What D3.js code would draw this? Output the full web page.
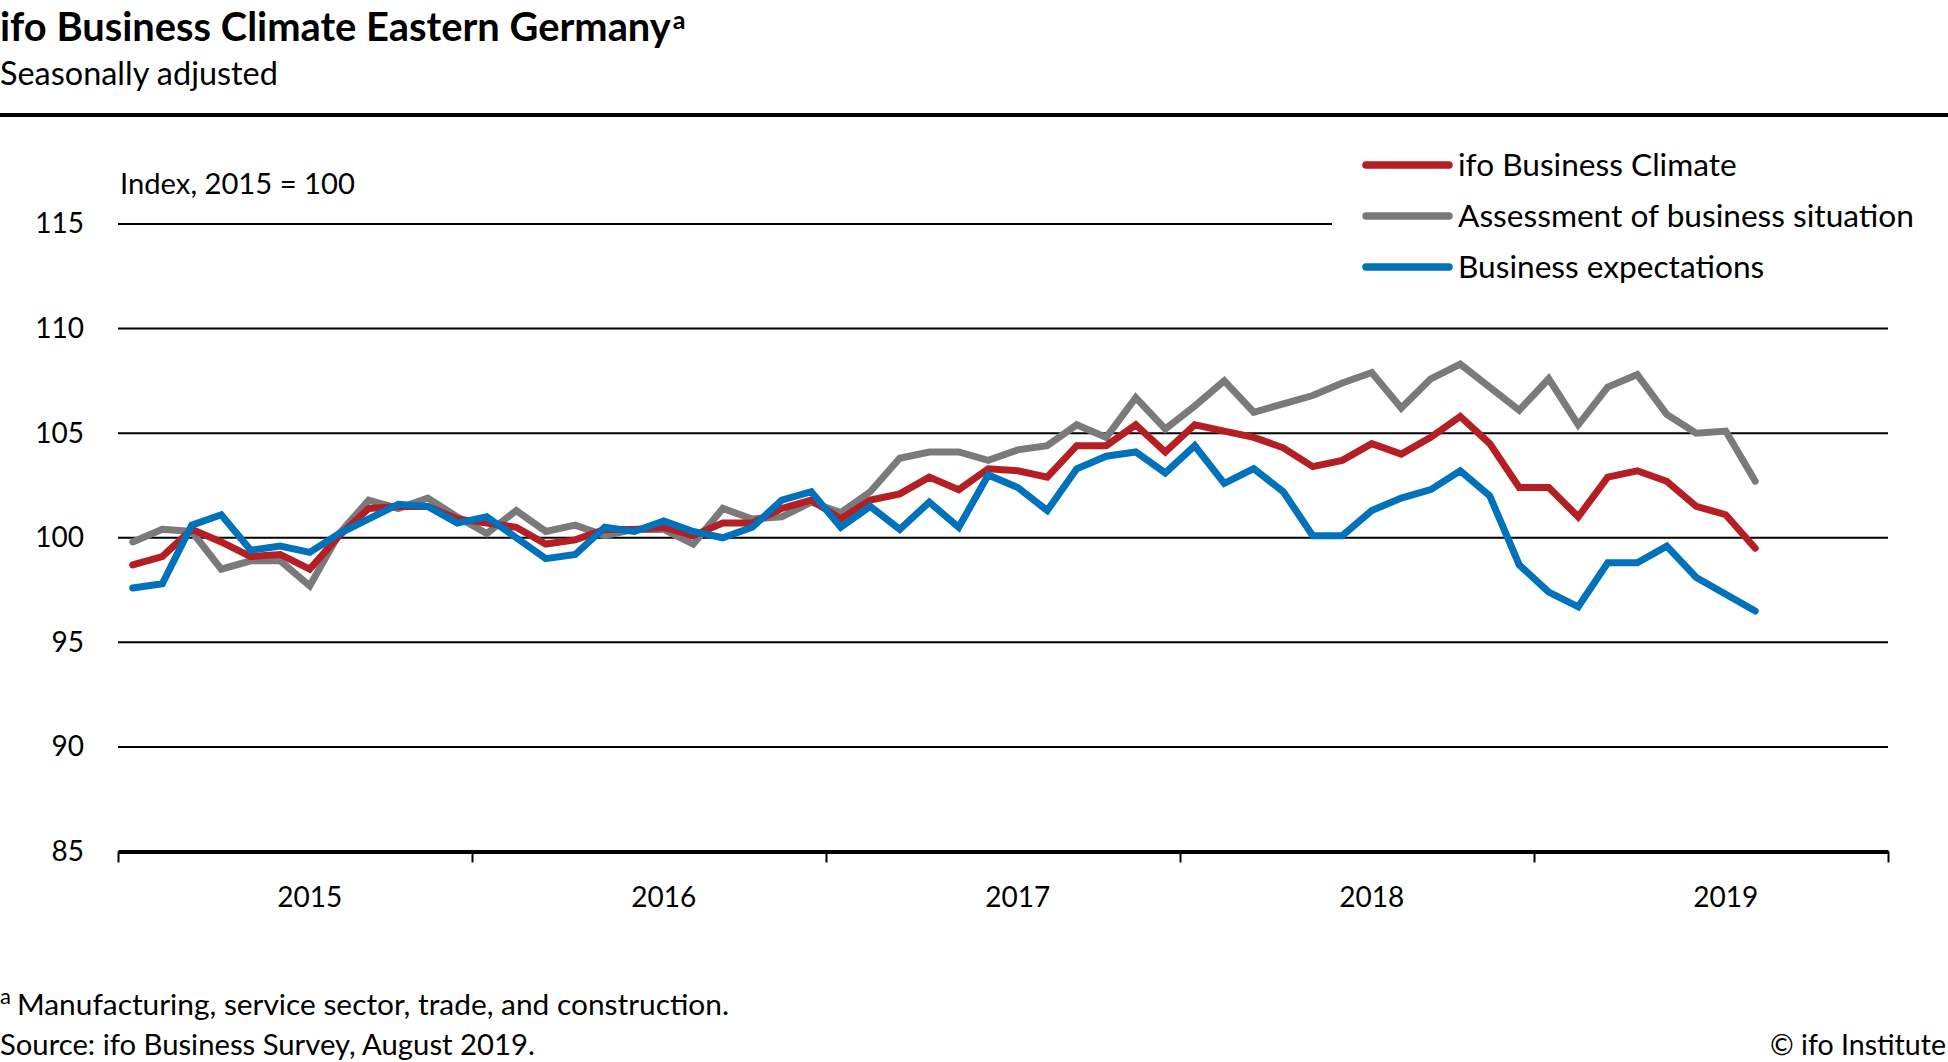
<!DOCTYPE html>
<html><head><meta charset="utf-8">
<script src="https://cdn.jsdelivr.net/npm/d3@7"></script>
<style>
html,body{margin:0;padding:0;background:#fff;}
svg{display:block;font-family:Lato,"Noto Sans",sans-serif;}
</style></head><body>
<svg id="chart" width="1948" height="1062"></svg>
<script>
// ---- data (monthly, Jan 2015 – Aug 2019) ----
const startYear = 2015;
const climate = [98.7, 99.1, 100.4, 99.8, 99.1, 99.2, 98.5, 100.1, 101.4, 101.5, 101.5, 100.9,
  100.7, 100.5, 99.7, 99.9, 100.4, 100.4, 100.5, 100.1, 100.7, 100.7, 101.4, 101.8,
  100.9, 101.8, 102.1, 102.9, 102.3, 103.3, 103.2, 102.9, 104.4, 104.4, 105.4, 104.1,
  105.4, 105.1, 104.8, 104.3, 103.4, 103.7, 104.5, 104.0, 104.8, 105.8, 104.5, 102.4,
  102.4, 101.0, 102.9, 103.2, 102.7, 101.5, 101.1, 99.5];
const situation = [99.8, 100.4, 100.3, 98.5, 98.9, 98.9, 97.7, 100.2, 101.8, 101.4, 101.9, 101.0,
  100.2, 101.3, 100.3, 100.6, 100.1, 100.4, 100.4, 99.7, 101.4, 100.9, 101.0, 101.7,
  101.2, 102.2, 103.8, 104.1, 104.1, 103.7, 104.2, 104.4, 105.4, 104.8, 106.7, 105.2,
  106.3, 107.5, 106.0, 106.4, 106.8, 107.4, 107.9, 106.2, 107.6, 108.3, 107.2, 106.1,
  107.6, 105.4, 107.2, 107.8, 105.9, 105.0, 105.1, 102.7];
const expectations = [97.6, 97.8, 100.6, 101.1, 99.4, 99.6, 99.3, 100.2, 100.9, 101.6, 101.5, 100.7,
  101.0, 100.0, 99.0, 99.2, 100.5, 100.3, 100.8, 100.3, 100.0, 100.5, 101.8, 102.2,
  100.5, 101.5, 100.4, 101.7, 100.5, 103.0, 102.4, 101.3, 103.3, 103.9, 104.1, 103.1,
  104.4, 102.6, 103.3, 102.2, 100.1, 100.1, 101.3, 101.9, 102.3, 103.2, 102.0, 98.7,
  97.4, 96.7, 98.8, 98.8, 99.6, 98.1, 97.3, 96.5];
const yearLabels = ["2015", "2016", "2017", "2018", "2019"];
const yTicks = [85, 90, 95, 100, 105, 110, 115];
const seriesNames = ["ifo Business Climate", "Assessment of business situation", "Business expectations"];
const seriesColors = ["#b51f24", "#7a7a7a", "#0072bc"];

// ---- setup ----
const svg = d3.select("#chart");
const x = d3.scaleLinear().domain([0, yearLabels.length * 12]).range([118, 1888]);
const y = d3.scaleLinear().domain([85, 115]).range([851.5, 224]);

function fit(sel, target) {
  const w = sel.node().getComputedTextLength();
  const fs = parseFloat(sel.attr("font-size"));
  sel.attr("font-size", (fs * target / w).toFixed(2));
  return sel;
}

// ---- header ----
const title = svg.append("text").attr("x", 0).attr("y", 41).attr("font-size", 36)
  .attr("font-weight", 700).attr("fill", "#000").text("ifo Business Climate Eastern Germany");
fit(title, 671);
title.append("tspan").attr("font-size", 25).attr("font-weight", 700).attr("dy", -12).attr("dx", 2).text("a");

const sub = svg.append("text").attr("x", 0).attr("y", 85).attr("font-size", 28)
  .attr("fill", "#000").text("Seasonally adjusted");
fit(sub, 278);

svg.append("line").attr("x1", 0).attr("x2", 1948).attr("y1", 115).attr("y2", 115)
  .attr("stroke", "#000").attr("stroke-width", 4);

// ---- gridlines ----
svg.append("g").selectAll("line").data(yTicks.filter(d => d > 85)).join("line")
  .attr("x1", x(0)).attr("x2", d => d === 115 ? 1332 : x(60))
  .attr("y1", d => y(d)).attr("y2", d => y(d))
  .attr("stroke", "#000").attr("stroke-width", 2);

// ---- y axis labels ----
const yAxis = svg.append("g").attr("transform", "translate(84,0)")
  .call(d3.axisLeft(y).tickValues(yTicks).tickSize(0).tickPadding(0));
yAxis.select(".domain").remove();
yAxis.selectAll("text").attr("font-size", 28).attr("font-family", "Lato").attr("fill", "#000");

svg.append("text").attr("x", 120).attr("y", 194).attr("font-size", 28).attr("fill", "#000")
  .text("Index, 2015 = 100").call(s => fit(s, 235));

// ---- x axis ----
const xAxis = svg.append("g").attr("transform", `translate(0,${y(85)})`)
  .call(d3.axisBottom(x).tickValues(d3.range(0, yearLabels.length * 12 + 1, 12))
    .tickSize(11).tickSizeOuter(0).tickFormat(""));
xAxis.select(".domain").attr("stroke", "#000").attr("stroke-width", 4);
xAxis.selectAll(".tick line").attr("stroke", "#000").attr("stroke-width", 2);

svg.append("g").selectAll("text").data(yearLabels).join("text")
  .attr("x", (d, i) => x(i * 12 + 6.5)).attr("y", 907)
  .attr("text-anchor", "middle").attr("font-size", 28).attr("fill", "#000").text(d => d);

// ---- lines ----
const line = d3.line().x((d, i) => x(i + 0.5)).y(d => y(d));
const drawOrder = [[situation, seriesColors[1]], [climate, seriesColors[0]], [expectations, seriesColors[2]]];
svg.append("g").selectAll("path").data(drawOrder).join("path")
  .attr("d", d => line(d[0])).attr("fill", "none").attr("stroke", d => d[1])
  .attr("stroke-width", 7).attr("stroke-linejoin", "miter").attr("stroke-miterlimit", 3)
  .attr("stroke-linecap", "round");

// ---- legend ----
const lg = svg.append("g").selectAll("g").data(seriesNames).join("g")
  .attr("transform", (d, i) => `translate(1366,${165 + i * 51})`);
lg.append("line").attr("x1", 0).attr("x2", 83).attr("y1", 0).attr("y2", 0)
  .attr("stroke", (d, i) => seriesColors[i]).attr("stroke-width", 7.5).attr("stroke-linecap", "round");
const lt = lg.append("text").attr("x", 92).attr("y", 11).attr("font-size", 30).attr("fill", "#000").text(d => d);
const refW = lt.filter((d, i) => i === 1).node().getComputedTextLength();
lt.attr("font-size", (30 * 456 / refW).toFixed(2));

// ---- footer ----
svg.append("text").attr("x", 0).attr("y", 1004).attr("font-size", 22).attr("fill", "#000").text("a");
svg.append("text").attr("x", 17).attr("y", 1015).attr("font-size", 28).attr("fill", "#000")
  .text("Manufacturing, service sector, trade, and construction.").call(s => fit(s, 712));
svg.append("text").attr("x", 0).attr("y", 1055).attr("font-size", 28).attr("fill", "#000")
  .text("Source: ifo Business Survey, August 2019.").call(s => fit(s, 535));
svg.append("text").attr("x", 1946).attr("y", 1055).attr("text-anchor", "end").attr("font-size", 28)
  .attr("fill", "#000").text("© ifo Institute").call(s => fit(s, 176));
</script>
</body></html>
